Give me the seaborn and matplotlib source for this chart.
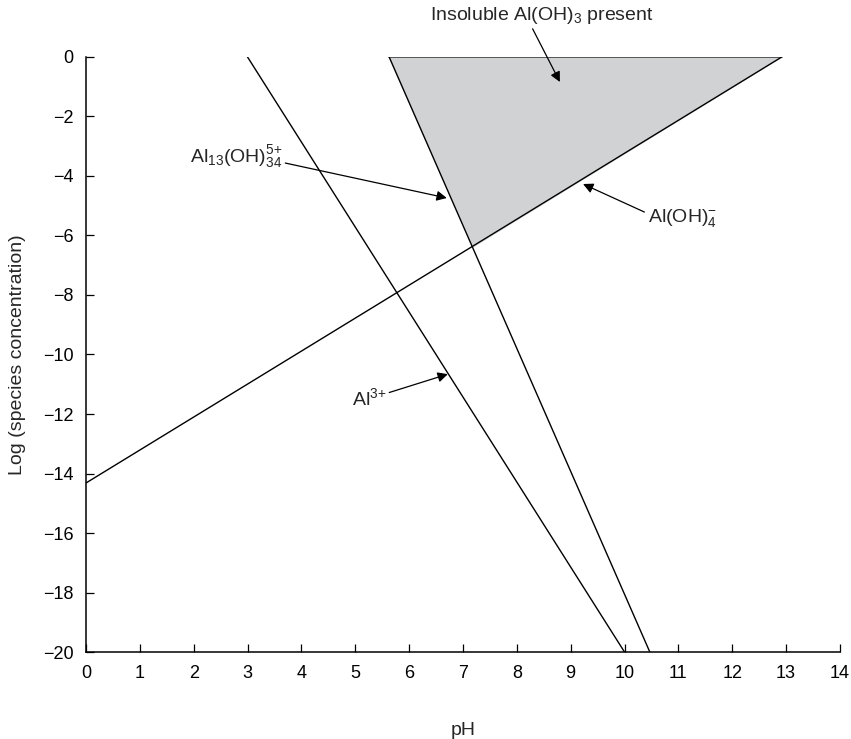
import numpy as np
import pandas as pd
import matplotlib
matplotlib.use('Agg')
import matplotlib.pyplot as plt
import seaborn as sns

# line endpoints (pH, log concentration)
al3_ph = [3.0, 10.0]
al3_log = [0.0, -20.0]
al13_ph = [5.63, 10.47]
al13_log = [0.0, -20.0]
aloh4_ph = [0.0, 12.92]
aloh4_log = [-14.32, 0.0]

# shaded region: insoluble Al(OH)3
solid_ph = [5.63, 12.92, 7.19]
solid_log = [0.0, 0.0, -6.38]

x_ticks = list(range(0, 15))
y_ticks = list(range(-20, 1, 2))

sns.set_theme(style='ticks')
plt.rcParams['font.family'] = ['Liberation Sans', 'DejaVu Sans']
plt.rcParams['mathtext.fontset'] = 'custom'
plt.rcParams['mathtext.rm'] = 'Liberation Sans'
plt.rcParams['mathtext.default'] = 'regular'

lines = pd.concat([
    pd.DataFrame({'pH': al3_ph, 'logc': al3_log, 'species': 'Al3+'}),
    pd.DataFrame({'pH': al13_ph, 'logc': al13_log, 'species': 'Al13'}),
    pd.DataFrame({'pH': aloh4_ph, 'logc': aloh4_log, 'species': 'AlOH4'}),
])

fig = plt.figure(figsize=(8.51, 7.39), dpi=100)
ax = fig.add_axes([0.101, 0.1177, 0.886, 0.8052])

ax.fill(solid_ph, solid_log, color='#d1d2d4', zorder=1)
ax.plot([solid_ph[0], solid_ph[1]], [solid_log[0], solid_log[1]], color='#333333', lw=1.1, zorder=2)
sns.lineplot(data=lines, x='pH', y='logc', units='species', estimator=None,
             color='black', lw=1.0, ax=ax, zorder=3, sort=False)

ax.set_xlim(0, 14)
ax.set_ylim(-20, 0)
ax.set_xticks(x_ticks)
ax.set_yticks(y_ticks)
ax.set_yticklabels([str(v).replace('-', '\u2212') for v in y_ticks])
ax.tick_params(direction='in', length=6, width=0.9, labelsize=13, pad=9, colors='black')
ax.set_xlabel('pH', fontsize=14, labelpad=29)
ax.set_ylabel('Log (species concentration)', fontsize=14, labelpad=12)
sns.despine(ax=ax)
for s in ['left', 'bottom']:
    ax.spines[s].set_linewidth(1.1)
    ax.spines[s].set_color('black')

arrow = dict(arrowstyle='-|>', color='black', lw=0.9, mutation_scale=15, shrinkA=0, shrinkB=0)

ax.annotate('Insoluble Al(OH)$_3$ present', xy=(8.80, -0.84), xytext=(8.47, 1.41),
            ha='center', va='center', fontsize=14, arrowprops=dict(arrow, relpos=(0.45, 0.0)),
            annotation_clip=False)
ax.annotate('Al$_{13}$(OH)$_{34}^{5{+}}$', xy=(6.70, -4.74), xytext=(3.64, -3.36),
            ha='right', va='center', fontsize=14, arrowprops=dict(arrow, relpos=(1.0, 0.3)))
ax.annotate('Al(OH)$_4^{-}$', xy=(9.23, -4.27), xytext=(10.43, -5.41),
            ha='left', va='center', fontsize=14, arrowprops=dict(arrow, relpos=(0.0, 0.7)))
ax.annotate('Al$^{3{+}}$', xy=(6.72, -10.66), xytext=(5.57, -11.46),
            ha='right', va='center', fontsize=14, arrowprops=dict(arrow, relpos=(1.0, 0.7)))

fig.savefig('out.png', dpi=100)
